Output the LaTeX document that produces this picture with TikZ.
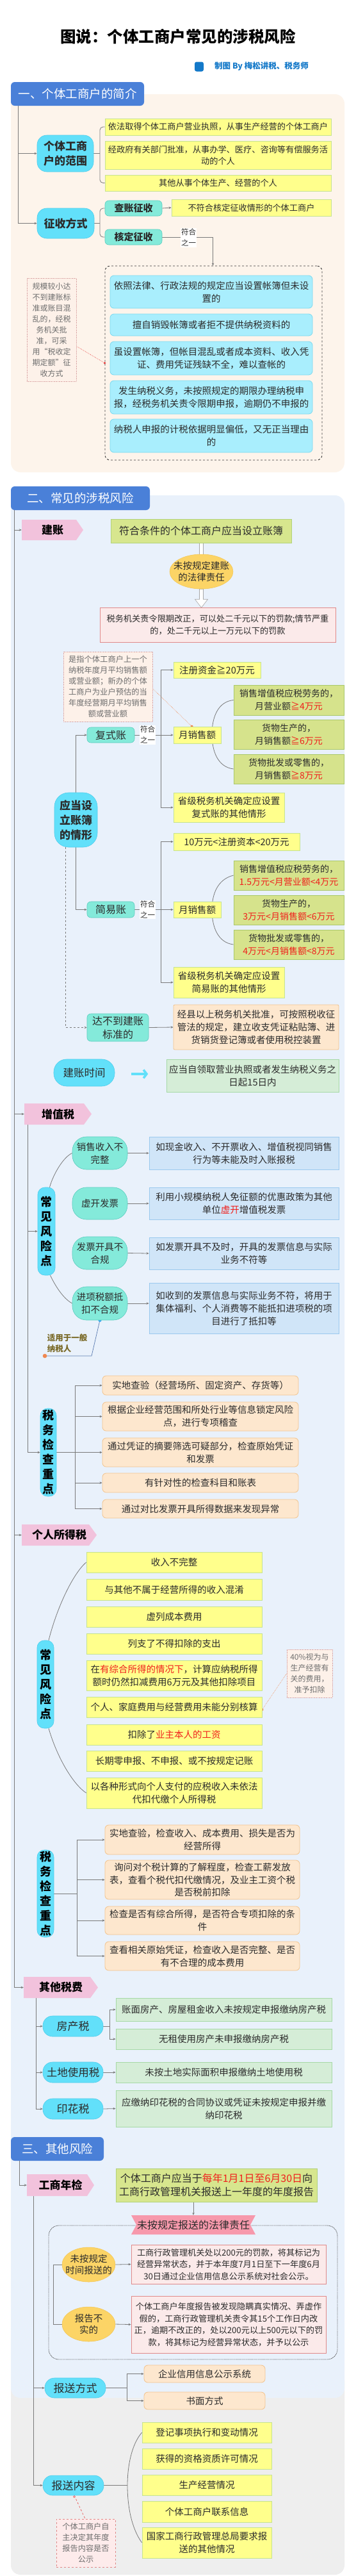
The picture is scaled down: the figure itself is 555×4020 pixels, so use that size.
\documentclass[tikz,border=0pt]{standalone}
\usepackage{fontspec}
\setmainfont{Noto Sans CJK SC}
\usetikzlibrary{arrows.meta,shapes.geometric,calc}
\pgfdeclarelayer{back}
\pgfdeclarelayer{bg}
\pgfsetlayers{back,bg,main}
\definecolor{hdrblue}{HTML}{4A80D8}
\definecolor{panelA}{HTML}{FDF4EB}
\definecolor{panelB}{HTML}{E9F1FB}
\definecolor{panelC}{HTML}{EEEEEE}
\definecolor{cyanf}{HTML}{62E0FA}
\definecolor{cyand}{HTML}{4FCDEB}
\definecolor{tealf}{HTML}{84EADA}
\definecolor{teald}{HTML}{5ACDBE}
\definecolor{ylwf}{HTML}{FFFF8C}
\definecolor{ylwd}{HTML}{C6E38F}
\definecolor{lcyf}{HTML}{A9EEFD}
\definecolor{lcyd}{HTML}{79D9EF}
\definecolor{grnBf}{HTML}{D7E68E}
\definecolor{grnBd}{HTML}{B2D27A}
\definecolor{grnGf}{HTML}{D6E38C}
\definecolor{grnGd}{HTML}{A9C86A}
\definecolor{pinkf}{HTML}{FBEAEA}
\definecolor{pinkd}{HTML}{E08A8A}
\definecolor{pchf}{HTML}{FDE7CE}
\definecolor{pchd}{HTML}{F2C48E}
\definecolor{lbf}{HTML}{D0E5F8}
\definecolor{lbd}{HTML}{9BC9EE}
\definecolor{lgrnf}{HTML}{D5EDD7}
\definecolor{lgrnd}{HTML}{A6D9A6}
\definecolor{notef}{HTML}{FDF1E9}
\definecolor{noted}{HTML}{D9A3A3}
\definecolor{notet}{HTML}{6E6E6E}
\definecolor{notepf}{HTML}{FDEBEB}
\definecolor{notepd}{HTML}{E08888}
\definecolor{tagpink}{HTML}{F2C2DC}
\definecolor{ellf}{HTML}{FCD466}
\definecolor{elld}{HTML}{F2C450}
\definecolor{redt}{HTML}{F0201C}
\definecolor{txt}{HTML}{2B2B2B}
\definecolor{lineg}{HTML}{7A7A7A}
\definecolor{credblue}{HTML}{1479C9}
\definecolor{bannerpink}{HTML}{F799AC}
\definecolor{olivet}{HTML}{7A6A28}
\definecolor{dotred}{HTML}{E84040}
\definecolor{dotorg}{HTML}{F08850}
\definecolor{dotblue}{HTML}{3AA8F0}
\definecolor{notebl}{HTML}{5A7AB0}
\newcommand\F[2]{\fontsize{#1pt}{#2pt}\selectfont}
\newcommand\Bx[7]{\node[#1, minimum width={(#5)-(#3)}, minimum height={(#6)-(#4)}] (#2) at ({((#3)+(#5))/2},{((#4)+(#6))/2}) {#7};}
\newcommand\Tag[7]{%
\fill[tagpink] (#2,#3) -- (#4,#3) -- (#5,{((#3)+(#6))/2}) -- (#4,#6) -- (#2,#6) -- cycle;
\node[tagtext, minimum width={(#5)-(#2)}, minimum height={(#6)-(#3)}] (#1) at ({((#2)+(#5))/2},{((#3)+(#6))/2}) {#7};}
\tikzset{
 base/.style={inner sep=1pt, align=center, text=txt},
 hdr/.style={base, fill=hdrblue, rounded corners=6pt, text=white, font=\F{18.5}{22}},
 cyanN/.style={base, fill=cyanf, draw=cyand, line width=0.6pt, rounded corners=15pt, font=\F{17}{23}},
 tealN/.style={base, fill=tealf, draw=teald, line width=0.6pt, rounded corners=6pt, font=\F{16}{21}},
 tealR/.style={base, fill=tealf, draw=teald, line width=0.6pt, rounded corners=22pt, font=\F{14.5}{20}},
 ylw/.style={base, fill=ylwf, draw=ylwd, line width=0.8pt, font=\F{14.5}{20}},
 lcy/.style={base, fill=lcyf, draw=lcyd, line width=0.8pt, rounded corners=6pt, font=\F{14.5}{20}},
 grnB/.style={base, fill=grnBf, draw=grnBd, line width=0.8pt, font=\F{16}{21}},
 grnG/.style={base, fill=grnGf, draw=grnGd, line width=0.8pt, font=\F{14}{20}},
 pinkB/.style={base, fill=pinkf, draw=pinkd, line width=0.8pt, font=\F{13.2}{18.5}},
 pchB/.style={base, fill=pchf, draw=pchd, line width=0.8pt, font=\F{14.5}{20}},
 pchR/.style={pchB, rounded corners=6pt},
 lbB/.style={base, fill=lbf, draw=lbd, line width=0.8pt, font=\F{14.5}{20}},
 lgrnB/.style={base, fill=lgrnf, draw=lgrnd, line width=0.8pt, font=\F{14.5}{20}},
 note/.style={base, fill=notef, draw=noted, densely dotted, line width=0.6pt, text=notet, font=\F{12}{17}},
 noteP/.style={base, fill=notepf, draw=notepd, dashed, line width=0.6pt, text=notet, font=\F{12.2}{17}},
 pill/.style={base, inner sep=0pt, fill=cyanf, draw=cyand, line width=0.6pt, rounded corners=11pt, font=\F{18}{23}\bfseries, text=black},
 dashbox/.style={draw=black!80, dashed, line width=0.9pt, rounded corners=8pt, inner sep=0pt},
 dotbox/.style={draw=black!70, densely dotted, line width=0.9pt, rounded corners=16pt, inner sep=0pt},
 lbl/.style={fill=white, inner sep=1pt, align=center, font=\F{11.5}{17}, text=txt},
 conn/.style={draw=lineg, line width=0.8pt},
 trunk/.style={draw=lineg, line width=1pt},
 arr/.style={-{Stealth[length=4pt,width=3.5pt]}},
 tagtext/.style={inner sep=0pt, font=\F{17}{20}\bfseries, text=black},
 ellN/.style={ellipse, fill=ellf, draw=elld, line width=0.5pt, inner sep=0pt},
 ellT/.style={inner sep=0pt, align=center, text=txt, font=\F{14.5}{18}},
 reddot/.style={draw=dotred, densely dotted, line width=0.6pt},
 orgdot/.style={draw=dotorg, densely dotted, line width=0.6pt},
 hollow/.style={fill=white, draw=gray!70, line width=0.6pt},
}
\begin{document}
\begin{tikzpicture}[x=1pt,y=-1pt]
\useasboundingbox (0,0) rectangle (555,4020);
\begin{pgfonlayer}{back}
\fill[white] (0,0) rectangle (555,4020);
\fill[panelC, rounded corners=15pt] (17,3700) rectangle (538,4018);
\fill[panelB, rounded corners=15pt] (17,773) rectangle (538,3742);
\fill[panelA, rounded corners=15pt] (17,147) rectangle (538,737);
\end{pgfonlayer}

% ---------- title ----------
\node[font=\F{24.5}{28}\bfseries, text=black] (title) at (278,57) {图说：个体工商户常见的涉税风险};
\node[fill=credblue, rounded corners=3pt, minimum width=14pt, minimum height=15pt, inner sep=0pt] (dot) at (311,104) {};
\node[anchor=west, inner sep=0pt, font=\F{12.5}{15}\bfseries, text=credblue] (cred) at (335,104) {制图 By 梅松讲税、税务师};

% ---------- section 1 ----------
\Bx{hdr}{h1}{17}{128}{225}{165}{一、个体工商户的简介}
\coordinate (t1) at (28,165);
\Bx{cyanN,font=\F{17}{23}\bfseries}{rng}{58}{211}{146}{268}{个体工商\\户的范围}
\Bx{cyanN,font=\F{17}{23}\bfseries}{zs}{58}{325}{147}{372}{征收方式}
\Bx{ylw,font=\F{13.2}{18}}{r1}{164}{185}{517}{211}{依法取得个体工商户营业执照，从事生产经营的个体工商户}
\Bx{ylw,font=\F{13.2}{18}}{r2}{164}{220}{517}{264}{经政府有关部门批准，从事办学、医疗、咨询等有偿服务活\\动的个人}
\Bx{ylw,font=\F{13.2}{18}}{r3}{164}{273}{517}{298}{其他从事个体生产、经营的个人}
\Bx{tealN,font=\F{15}{20}\bfseries}{cz}{164}{313}{253}{337}{查账征收}
\Bx{tealN,font=\F{15}{20}\bfseries}{hd}{164}{358}{253}{382}{核定征收}
\Bx{ylw,font=\F{13.2}{18}}{bfh}{268}{311}{517}{337}{不符合核定征收情形的个体工商户}
\Bx{dashbox}{db}{164}{415}{503}{718}{}
\Bx{lcy}{c1}{172}{430}{488}{481}{依照法律、行政法规的规定应当设置帐簿但未设\\置的}
\Bx{lcy}{c2}{172}{490}{488}{524}{擅自销毁帐簿或者拒不提供纳税资料的}
\Bx{lcy}{c3}{172}{533}{488}{585}{虽设置帐簿，但帐目混乱或者成本资料、收入凭\\证、费用凭证残缺不全，难以查帐的}
\Bx{lcy}{c4}{172}{594}{488}{646}{发生纳税义务，未按照规定的期限办理纳税申\\报，经税务机关责令限期申报，逾期仍不申报的}
\Bx{lcy}{c5}{172}{654}{488}{706}{纳税人申报的计税依据明显偏低，又无正当理由\\的}
\Bx{note}{n1}{42}{434}{119}{595}{规模较小达\\不到建账标\\准或账目混\\乱的，经税\\务机关批\\准，可采\\用“税收定\\期定额”征\\收方式}
\node[lbl] (l1) at (294.5,371) {符合\\之一};
\begin{pgfonlayer}{bg}
\draw[trunk,arr] (t1) |- (rng.west);
\draw[trunk,arr] (t1) |- (zs.west);
\draw[conn,rounded corners=5pt] (r1.west) -| (156,240) |- (r3.west);
\draw[conn] (rng.east) -- (156,239.5);
\draw[conn,rounded corners=5pt] (cz.west) -| (156,348) |- (hd.west);
\draw[conn] (zs.east) -- (156,348.5);
\draw[conn,arr] (cz.east) -- (bfh.west);
\draw[conn,arr] (hd.east) -| ($(db.north west)+(169,0)$);
\draw[reddot] ($(n1.south east)+(0,-55)$) -- (db.west);
\fill[dotred] (db.west) circle (1.8pt);
\end{pgfonlayer}

% ---------- section 2 ----------
\Bx{hdr}{h2}{17}{759}{234}{796}{二、常见的涉税风险}
\coordinate (t2) at (22,796);
\Tag{tj}{34}{811}{119}{130}{843}{建账}
\Bx{grnB}{fh}{173}{810}{455}{847}{符合条件的个体工商户应当设立账簿}
\node[ellN, minimum width=99pt, minimum height=54pt] (wa) at (314.5,892) {};
\node[ellT] (wat) at (wa) {未按规定建账\\的法律责任};
\Bx{pinkB}{fk}{156}{948}{524}{1002}{税务机关责令限期改正，可以处二千元以下的罚款;情节严重\\的，处二千元以上一万元以下的罚款}
\Bx{note,font=\F{12.3}{17}}{n2}{99}{1017}{238}{1126}{是指个体工商户上一个\\纳税年度月平均销售额\\或营业额；新办的个体\\工商户为业户预估的当\\年度经营期月平均销售\\额或营业额}
\Bx{cyanN,rounded corners=22pt,font=\F{17}{23}\bfseries}{qx}{85}{1237}{152}{1322}{应当设\\立账簿\\的情形}
\Bx{tealN}{fs}{136}{1135}{210}{1159}{复式账}
\Bx{tealN}{jy}{136}{1407}{210}{1432}{简易账}
\Bx{tealN}{dd}{136}{1582}{232}{1625}{达不到建账\\标准的}
\coordinate (b1) at (251,1147);
\coordinate (b2) at (251,1419.5);
\Bx{ylw}{zc}{271}{1033}{407}{1058}{注册资金≧20万元}
\Bx{ylw}{ms1}{271}{1134}{345}{1160}{月销售额}
\Bx{ylw}{sj1}{271}{1237}{444}{1283}{省级税务机关确定应设置\\复式账的其他情形}
\Bx{grnG}{g1}{365}{1069}{537}{1116}{销售增值税应税劳务的，\\月营业额\textcolor{redt}{≧4万元}}
\Bx{grnG}{g2}{365}{1123}{537}{1169}{货物生产的，\\月销售额\textcolor{redt}{≧6万元}}
\Bx{grnG}{g3}{365}{1177}{537}{1223}{货物批发或零售的，\\月销售额\textcolor{redt}{≧8万元}}
\Bx{ylw}{zb}{271}{1300}{468}{1327}{10万元<注册资本<20万元}
\Bx{grnG}{g4}{365}{1343}{537}{1389}{销售增值税应税劳务的，\\\textcolor{redt}{1.5万元<月营业额<4万元}}
\Bx{grnG}{g5}{365}{1397}{537}{1443}{货物生产的，\\\textcolor{redt}{3万元<月销售额<6万元}}
\Bx{grnG}{g6}{365}{1451}{537}{1497}{货物批发或零售的，\\\textcolor{redt}{4万元<月销售额<8万元}}
\Bx{ylw}{ms2}{271}{1407}{345}{1432}{月销售额}
\Bx{ylw}{sj2}{271}{1509}{444}{1557}{省级税务机关确定应设置\\简易账的其他情形}
\Bx{pchB,rounded corners=2pt}{dbz}{271}{1568}{529}{1638}{经县以上税务机关批准，可按照税收征\\管法的规定，建立收支凭证粘贴簿、进\\货销货登记簿或者使用税控装置}
\Bx{cyanN,rounded corners=20pt,font=\F{16.5}{21}}{jt}{84}{1653}{179}{1695}{建账时间}
\Bx{lgrnB}{jb}{260}{1653}{529}{1704}{应当自领取营业执照或者发生纳税义务之\\日起15日内}
\node[lbl] (l2) at (230.5,1147) {符合\\之一};
\node[lbl] (l3) at (230.5,1419.5) {符合\\之一};
\begin{pgfonlayer}{bg}
\draw[trunk,arr] (t2) |- (tj.west);
\filldraw[hollow] ($(fh.south)+(-3,0)$) rectangle ($(wa.north)+(3,2)$);
\filldraw[hollow] ($(wa.south)+(-3,0)$) -- ++(0,16) -- ++(-7,0) -- ++(10,13) -- ++(10,-13) -- ++(-7,0) -- ++(0,-16) -- cycle;
\draw[orgdot] ($(n2.east)+(0,3)$) -- ($(ms1.north west)+(29,0)$);
\fill[dotorg] ($(ms1.north west)+(29,0)$) circle (2pt);
\draw[conn,arr] (qx.north) |- (fs.west);
\draw[conn,arr] (qx.south) |- (jy.west);
\draw[conn,dashed,arr] ($(qx.south)+(-16,0)$) |- (dd.west);
\draw[conn] (fs.east) -- (b1);
\draw[conn,arr] (b1) |- (zc.west);
\draw[conn,arr] (b1) -- (ms1.west);
\draw[conn,arr] (b1) |- (sj1.west);
\draw[conn] (g1.west) .. controls (340,1095) and (331,1120) .. (331,1146) .. controls (331,1172) and (340,1197) .. (g3.west);
\draw[conn] (jy.east) -- (b2);
\draw[conn,arr] (b2) |- (zb.west);
\draw[conn,arr] (b2) -- (ms2.west);
\draw[conn,arr] (b2) |- (sj2.west);
\draw[conn] (g4.west) .. controls (340,1372) and (331,1395) .. (331,1420) .. controls (331,1446) and (340,1471) .. (g6.west);
\draw[conn,arr] (dd.east) -- (dbz.west);
\draw[draw=cyanf, line width=3.5pt, -{Straight Barb[length=5pt,width=13pt]}] ($(jt.east)+(26,2)$) -- ($(jt.east)+(52,2)$);
\end{pgfonlayer}

% VAT
\Tag{tz}{38}{1722}{131}{143}{1755}{增值税}
\coordinate (s1) at (43,1755);
\Bx{pill}{cf1}{59}{1853}{86}{1990}{常\\见\\风\\险\\点}
\Bx{pill}{sw1}{63}{2198}{88}{2335}{税\\务\\检\\查\\重\\点}
\Bx{tealR}{v1}{113}{1774}{199}{1825}{销售收入不\\完整}
\Bx{tealR}{v2}{113}{1853}{199}{1903}{虚开发票}
\Bx{tealR}{v3}{113}{1930}{199}{1981}{发票开具不\\合规}
\Bx{tealR}{v4}{113}{2008}{199}{2060}{进项税额抵\\扣不合规}
\Bx{lbB}{w1}{233}{1774}{529}{1825}{如现金收入、不开票收入、增值税视同销售\\行为等未能及时入账报税}
\Bx{lbB}{w2}{233}{1853}{529}{1903}{利用小规模纳税人免征额的优惠政策为其他\\单位\textcolor{redt}{虚开}增值税发票}
\Bx{lbB}{w3}{233}{1931}{529}{1981}{如发票开具不及时，开具的发票信息与实际\\业务不符等}
\Bx{lbB}{w4}{233}{2002}{529}{2081}{如收到的发票信息与实际业务不符，将用于\\集体福利、个人消费等不能抵扣进项税的项\\目进行了抵扣等}
\Bx{inner sep=0pt, align=left, font=\F{12.5}{17}\bfseries, text=olivet}{syt}{74}{2079}{136}{2113}{适用于一般\\纳税人}
\coordinate (syend) at (70,2116);
\coordinate (b3) at (117,2266.5);
\Bx{pchR}{k1}{160}{2147}{466}{2177}{实地查验（经营场所、固定资产、存货等）}
\Bx{pchR}{k2}{160}{2188}{466}{2233}{根据企业经营范围和所处行业等信息锁定风险\\点，进行专项稽查}
\Bx{pchR}{k3}{160}{2244}{466}{2289}{通过凭证的摘要筛选可疑部分，检查原始凭证\\和发票}
\Bx{pchR}{k4}{160}{2299}{466}{2329}{有针对性的检查科目和账表}
\Bx{pchR}{k5}{160}{2340}{466}{2369}{通过对比发票开具所得数据来发现异常}
\begin{pgfonlayer}{bg}
\draw[trunk,arr] (t2) |- (tz.west);
\draw[conn,arr] (s1) |- (cf1.west);
\draw[conn,arr] (s1) |- (sw1.west);
\draw[conn] ([xshift=5pt]cf1.north) .. controls (84,1830) and (100,1805) .. (v1.west);
\draw[conn] ([xshift=6pt]cf1.south) .. controls (88,2010) and (100,2027) .. (v4.west);
\draw[conn,arr] (v1.east) -- (w1.west);
\draw[conn,arr] (v2.east) -- (w2.west);
\draw[conn,arr] (v3.east) -- (w3.west);
\draw[conn,arr] (v4.east) -- (v4.east -| w4.west);
\draw[draw=notebl, line width=0.7pt] (v4.south) -- (143,2116) -- (syend);
\fill[dotblue] (v4.south) circle (2.6pt);
\fill[dotorg] (syend) circle (3.3pt);
\draw[conn] (sw1.east) -- (b3);
\foreach \k in {k1,k2,k3,k4,k5} {\draw[conn,arr] (b3) |- (\k.west);}
\end{pgfonlayer}

% IIT
\Tag{tg}{34}{2379}{139}{151}{2412}{个人所得税}
\Bx{pill}{cf2}{58}{2560}{84}{2697}{常\\见\\风\\险\\点}
\Bx{ylw}{y1}{135}{2422}{409}{2454}{收入不完整}
\Bx{ylw}{y2}{135}{2464}{409}{2497}{与其他不属于经营所得的收入混淆}
\Bx{ylw}{y3}{135}{2507}{409}{2539}{虚列成本费用}
\Bx{ylw}{y4}{135}{2549}{409}{2581}{列支了不得扣除的支出}
\Bx{ylw}{y5}{135}{2591}{409}{2638}{在\textcolor{redt}{有综合所得的情况下}，计算应纳税所得\\额时仍然扣减费用6万元及其他扣除项目}
\Bx{ylw}{y6}{135}{2648}{409}{2680}{个人、家庭费用与经营费用未能分别核算}
\Bx{ylw}{y7}{135}{2691}{409}{2723}{扣除了\textcolor{redt}{业主本人的工资}}
\Bx{ylw}{y8}{135}{2732}{409}{2764}{长期零申报、不申报、或不按规定记账}
\Bx{ylw}{y9}{135}{2774}{409}{2822}{以各种形式向个人支付的应税收入未依法\\代扣代缴个人所得税}
\Bx{note}{n3}{448}{2574}{519}{2649}{40\%视为与\\生产经营有\\关的费用，\\准予扣除}
\Bx{pill}{sw2}{58}{2887}{84}{3023}{税\\务\\检\\查\\重\\点}
\coordinate (b4) at (120,2955);
\Bx{pchR}{m1}{164}{2848}{468}{2894}{实地查验，检查收入、成本费用、损失是否为\\经营所得}
\Bx{pchR,font=\F{14.5}{19.5}}{m2}{164}{2903}{468}{2964}{询问对个税计算的了解程度，检查工薪发放\\表，查看个税代扣代缴情况，及业主工资个税\\是否税前扣除}
\Bx{pchR}{m3}{164}{2975}{468}{3019}{检查是否有综合所得，是否符合专项扣除的条\\件}
\Bx{pchR}{m4}{164}{3030}{468}{3075}{查看相关原始凭证，检查收入是否完整、是否\\有不合理的成本费用}
\begin{pgfonlayer}{bg}
\draw[trunk,arr] (t2) |- (tg.west);
\draw[conn] ([xshift=5pt]cf2.north) .. controls (90,2505) and (115,2455) .. (y1.west);
\draw[conn] ([xshift=5pt]cf2.south) .. controls (90,2745) and (115,2785) .. (y9.west);
\draw[orgdot] ($(y6.east)+(0,4)$) -- (n3.west);
\fill[dotorg] ($(y6.east)+(0,4)$) circle (2pt);
\draw[conn] (sw2.east) -- (b4);
\foreach \k in {m1,m2,m3,m4} {\draw[conn,arr] (b4) |- (\k.west);}
\end{pgfonlayer}

% other taxes
\Tag{tq}{37}{3085}{141}{153}{3118}{其他税费}
\coordinate (s3) at (56,3118);
\Bx{cyanN}{fc}{67}{3146}{161}{3178}{房产税}
\Bx{cyanN,font=\F{16.5}{21}}{td}{67}{3218}{161}{3250}{土地使用税}
\Bx{cyanN}{yh}{67}{3275}{161}{3307}{印花税}
\Bx{lgrnB}{o1}{181}{3118}{518}{3154}{账面房产、房屋租金收入未按规定申报缴纳房产税}
\Bx{lgrnB}{o2}{181}{3166}{518}{3198}{无租使用房产未申报缴纳房产税}
\Bx{lgrnB}{o3}{181}{3218}{518}{3250}{未按土地实际面积申报缴纳土地使用税}
\Bx{lgrnB}{o4}{181}{3262}{518}{3319}{应缴纳印花税的合同协议或凭证未按规定申报并缴\\纳印花税}
\coordinate (b5) at (171,3162);
\begin{pgfonlayer}{bg}
\draw[trunk,arr] (t2) |- (tq.west);
\draw[conn,arr] (s3) |- (fc.west);
\draw[conn,arr] (s3) |- (td.west);
\draw[conn,arr] (s3) |- (yh.west);
\draw[conn] (fc.east) -- (b5);
\draw[conn,arr] (b5) |- (o1.west);
\draw[conn,arr] (b5) |- (o2.west);
\draw[conn,arr] (td.east) -- (o3.west);
\draw[conn,arr] (yh.east) -- (o4.west);
\end{pgfonlayer}

% ---------- section 3 ----------
\Bx{hdr}{h3}{17}{3335}{162}{3372}{三、其他风险}
\coordinate (t3) at (30,3372);
\Tag{gn}{42}{3393}{136}{147}{3427}{工商年检}
\coordinate (s4) at (52,3427);
\Bx{grnB,font=\F{16}{21}}{nb}{181}{3384}{495}{3436}{个体工商户应当于\textcolor{redt}{每年1月1日至6月30日}向\\工商行政管理机关报送上一年度的年度报告}
\Bx{dotbox}{dbox}{76}{3473}{527}{3682}{}
\fill[bannerpink] (205,3457) -- (399,3457) -- (391,3472) -- (399,3487) -- (205,3487) -- (213,3472) -- cycle;
\node[inner sep=0pt, minimum width=194pt, minimum height=30pt, font=\F{16}{20}, text=txt] (bn) at (302,3472) {未按规定报送的法律责任};
\node[ellN, minimum width=83pt, minimum height=54pt] (e1) at (138.5,3534) {};
\node[ellT] (e1t) at (e1) {未按规定\\时间报送的};
\node[ellN, minimum width=83pt, minimum height=54pt] (e2) at (138.5,3627) {};
\node[ellT] (e2t) at (e2) {报告不\\实的};
\Bx{pinkB}{p1}{205}{3503}{509}{3564}{工商行政管理机关处以200元的罚款，将其标记为\\经营异常状态，并于本年度7月1日至下一年度6月\\30日通过企业信用信息公示系统对社会公示。}
\Bx{pinkB}{p2}{205}{3583}{509}{3672}{个体工商户年度报告被发现隐瞒真实情况、弄虚作\\假的，工商行政管理机关责令其15个工作日内改\\正，逾期不改正的，处以200元以上500元以下的罚\\款，将其标记为经营异常状态，并予以公示}
\Bx{cyanN}{bf}{70}{3711}{165}{3742}{报送方式}
\Bx{cyanN}{bnr}{67}{3863}{162}{3894}{报送内容}
\coordinate (b6) at (198,3726.5);
\coordinate (b7) at (199,3878.5);
\Bx{pchR}{q1}{225}{3691}{414}{3718}{企业信用信息公示系统}
\Bx{pchR}{q2}{225}{3733}{414}{3760}{书面方式}
\Bx{ylw}{u1}{222}{3780}{424}{3812}{登记事项执行和变动情况}
\Bx{ylw}{u2}{222}{3821}{424}{3853}{获得的资格资质许可情况}
\Bx{ylw}{u3}{222}{3862}{424}{3894}{生产经营情况}
\Bx{ylw}{u4}{222}{3903}{424}{3936}{个体工商户联系信息}
\Bx{ylw}{u5}{222}{3944}{424}{3992}{国家工商行政管理总局要求报\\送的其他情况}
\Bx{noteP}{n4}{88}{3931}{180}{4006}{个体工商户自\\主决定其年度\\报告内容是否\\公示}
\begin{pgfonlayer}{bg}
\draw[trunk,arr] (t3) |- (gn.west);
\draw[conn,arr] (nb.south -| bn.north) -- (bn.north);
\draw[conn] (e1.west) -- ++(-13,0) |- (e2.west);
\draw[conn,arr] (e1.east) -- (p1.west);
\draw[conn,arr] (e2.east) -- (p2.west);
\draw[trunk,arr] (s4) |- (bf.west);
\draw[trunk,arr] (s4) |- (bnr.west);
\draw[conn] (bf.east) -- (b6);
\draw[conn,arr] (b6) |- (q1.west);
\draw[conn,arr] (b6) |- (q2.west);
\draw[conn] (bnr.east) -- (b7);
\draw[conn] (u1.west) .. controls (205,3815) and (199,3850) .. (b7) .. controls (199,3910) and (205,3945) .. (u5.west);
\draw[draw=dotred, dashed, line width=0.6pt] ($(bnr.south)+(1.5,0)$) -- ($(n4.north)+(-1,0)$);
\draw[draw=dotred, line width=0.5pt, fill=white] ($(bnr.south)+(1.5,2)$) circle (1.5pt);
\end{pgfonlayer}
\end{tikzpicture}
\end{document}
